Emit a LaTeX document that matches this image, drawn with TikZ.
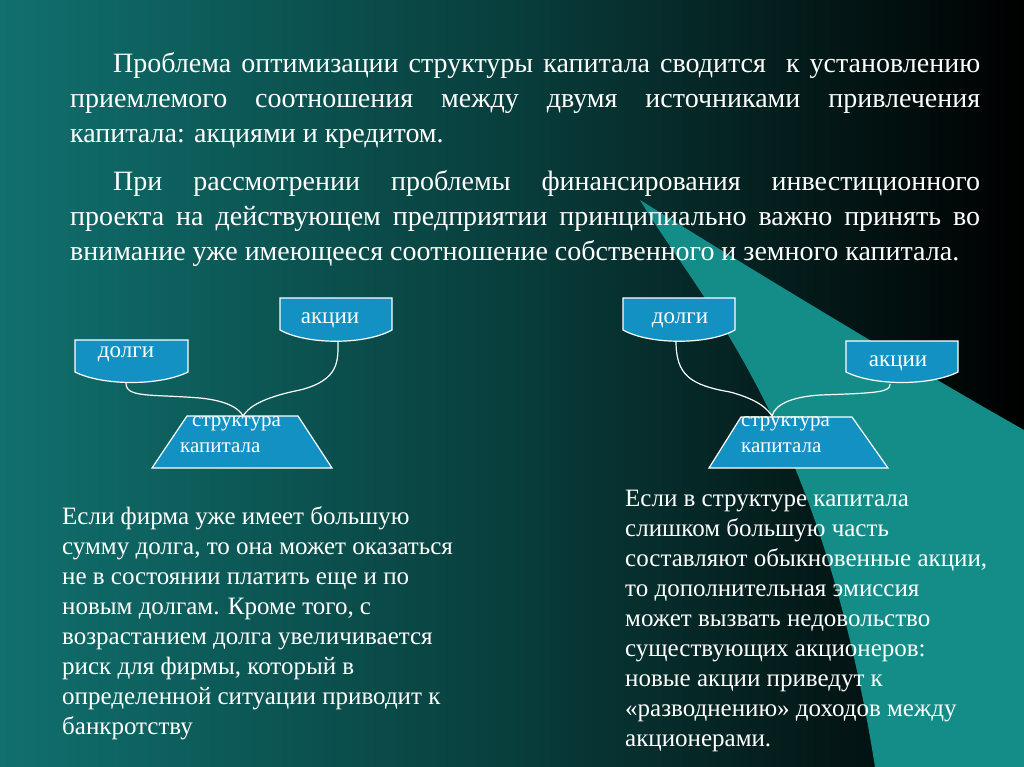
\documentclass[tikz,border=0pt]{standalone}
\usepackage{fontspec}
\setmainfont{Liberation Serif}
\definecolor{bgL}{RGB}{16,112,110}
\definecolor{bgM}{RGB}{8,62,60}
\definecolor{bgR}{RGB}{0,0,0}
\definecolor{swoosh}{RGB}{20,140,136}
\definecolor{boxfill}{RGB}{20,145,195}
\tikzset{
 lbl/.style={text=white,font=\fontsize{23}{25}\selectfont},
 lbl2/.style={text=white,anchor=north west,align=left,inner sep=0,font=\fontsize{21}{26}\selectfont},
 cup/.style={draw=white,line width=1.2pt,fill=boxfill},
 wire/.style={draw=white,line width=1.2pt},
 para/.style={text=white,anchor=north west,align=justify,inner sep=0,font=\fontsize{28}{35}\selectfont},
 bottxt/.style={text=white,anchor=north west,align=left,inner sep=0,font=\fontsize{25}{30}\selectfont}
}
\begin{document}
\begin{tikzpicture}[x=1pt,y=-1pt]
\useasboundingbox (0,0) rectangle (1024,767);
\shade[left color=bgL,right color=bgR,middle color=bgM] (0,0) rectangle (1024,767);
% swoosh
\fill[swoosh] (640,200) .. controls (700,300) and (820,420) .. (875,767) -- (1024,767) -- (1024,430) .. controls (900,360) and (720,250) .. (640,200) -- cycle;
% paragraphs
\node[para,text width=910] (p1) at (70,52) {\hspace*{43pt}Проблема оптимизации структуры капитала сводится \ к установлению\linebreak приемлемого соотношения между двумя источниками привлечения\linebreak капитала: акциями и кредитом.};
\node[para,text width=910] (p2) at (70,170) {\hspace*{43pt}При рассмотрении проблемы финансирования инвестиционного\linebreak проекта на действующем предприятии принципиально важно принять во\linebreak внимание уже имеющееся соотношение собственного и земного капитала.};
% left diagram
\path[cup] (75,340) -- (188,340) -- (188,372) .. controls (160,386) and (103,386) .. (75,372) -- cycle;
\node[lbl] (d1) at (126,354) {долги};
\path[cup] (280,298) -- (392,298) -- (392,330) .. controls (365,345) and (307,345) .. (280,330) -- cycle;
\node[lbl] (a1) at (330,320) {акции};
\path[cup] (187,416) -- (298,416) -- (332,468) -- (152,468) -- cycle;
\node[lbl2] (s1) at (180,416) {\hspace*{12pt}структура\\капитала};
\draw[wire] (126,383) .. controls (126,398) and (150,394) .. (200,398) .. controls (230,401) and (240,410) .. (243,416);
\draw[wire] (338,341) .. controls (338,360) and (340,380) .. (300,390) .. controls (260,398) and (248,408) .. (243,416);
% right diagram
\path[cup] (623,298) -- (735,298) -- (735,330) .. controls (708,345) and (650,345) .. (623,330) -- cycle;
\node[lbl] (d2) at (680,320) {долги};
\path[cup] (846,341) -- (958,341) -- (958,372) .. controls (930,386) and (874,386) .. (846,372) -- cycle;
\node[lbl] (a2) at (898,363) {акции};
\path[cup] (741,417) -- (852,417) -- (888,468) -- (709,468) -- cycle;
\node[lbl2] (s2) at (741,416) {структура\\капитала};
\draw[wire] (676,341) .. controls (676,375) and (690,385) .. (730,392) .. controls (760,400) and (768,410) .. (772,416);
\draw[wire] (890,384) .. controls (890,392) and (880,393) .. (820,395) .. controls (790,397) and (775,405) .. (772,416);
% bottom texts
\node[bottxt] (b1) at (62,506) {Если фирма уже имеет большую\\сумму долга, то она может оказаться\\не в состоянии платить еще и по\\новым долгам. Кроме того, с\\возрастанием долга увеличивается\\риск для фирмы, который в\\определенной ситуации приводит к\\банкротству};
\node[bottxt] (b2) at (625,490) {Если в структуре капитала\\слишком большую часть\\составляют обыкновенные акции,\\то дополнительная эмиссия\\может вызвать недовольство\\существующих акционеров:\\новые акции приведут к\\«разводнению» доходов между\\акционерами.};
\end{tikzpicture}
\end{document}
